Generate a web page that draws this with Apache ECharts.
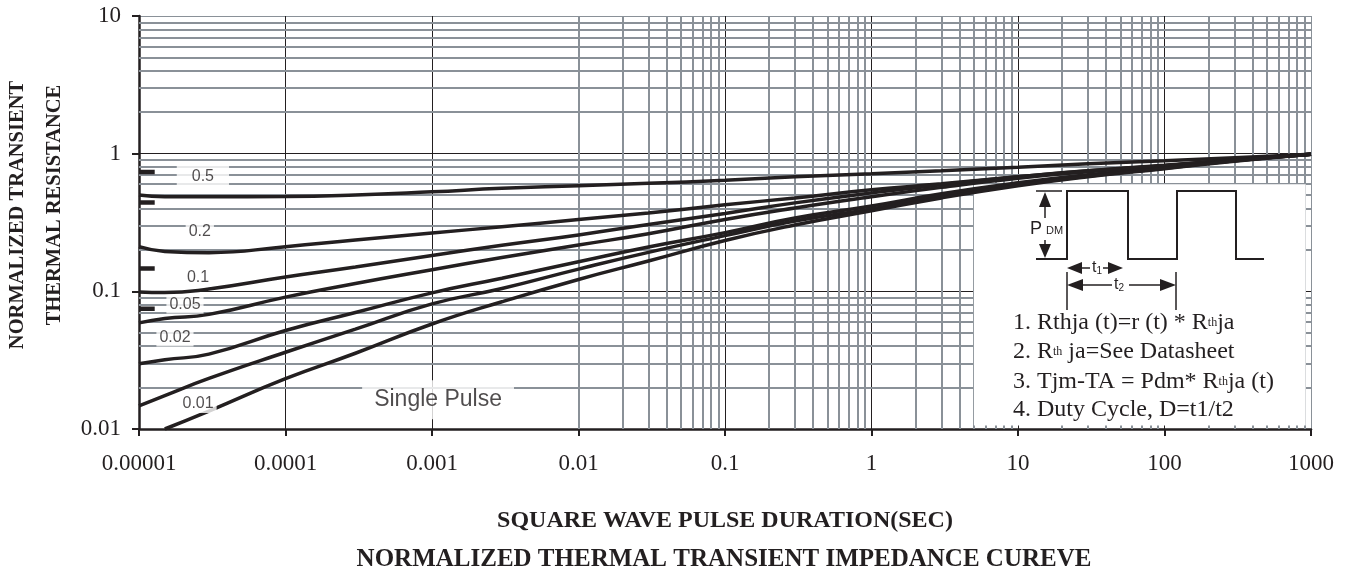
<!DOCTYPE html>
<html>
<head>
<meta charset="utf-8">
<script src="https://cdn.jsdelivr.net/npm/echarts@6/dist/echarts.min.js"></script>
<style>
html, body { margin: 0; padding: 0; background: #fff; }
#main { width: 1350px; height: 571px; }
</style>
</head>
<body>
<div id="main"></div>
<script>
// pulse duration (sec) where the curves were read
let timeX = [1e-5, 1.5e-5, 3e-5, 1e-4, 3e-4, 1e-3, 3e-3, 1e-2, 3e-2, 0.1, 0.3, 1, 3, 10, 30, 100, 300, 1000]

// normalized transient thermal resistance, one array per duty cycle
let duty05 = [0.50, 0.486, 0.487, 0.488, 0.50, 0.528, 0.56, 0.584, 0.609, 0.641, 0.679, 0.715, 0.751, 0.797, 0.845, 0.889, 0.935, 0.99]
let duty02 = [0.211, 0.195, 0.191, 0.211, 0.236, 0.265, 0.295, 0.332, 0.371, 0.425, 0.477, 0.546, 0.604, 0.679, 0.751, 0.818, 0.904, 0.99]
let duty01 = [0.099, 0.098, 0.104, 0.127, 0.150, 0.182, 0.216, 0.257, 0.306, 0.368, 0.439, 0.519, 0.594, 0.679, 0.751, 0.824, 0.904, 0.99]
let duty005 = [0.059, 0.0635, 0.068, 0.0908, 0.114, 0.1435, 0.176, 0.217, 0.262, 0.333, 0.403, 0.486, 0.569, 0.663, 0.739, 0.818, 0.897, 0.99]
let duty002 = [0.0298, 0.0319, 0.035, 0.0519, 0.0702, 0.0975, 0.1245, 0.164, 0.210, 0.267, 0.341, 0.417, 0.511, 0.614, 0.703, 0.790, 0.889, 0.99]
let duty001 = [0.0147, 0.0175, 0.0233, 0.0361, 0.0531, 0.081, 0.1048, 0.145, 0.192, 0.254, 0.324, 0.397, 0.494, 0.594, 0.685, 0.784, 0.889, 0.99]
let singlePulse = [null, 0.0100, 0.0135, 0.0232, 0.0355, 0.0579, 0.084, 0.122, 0.166, 0.234, 0.303, 0.384, 0.477, 0.584, 0.679, 0.777, 0.882, 0.99]

// short stubs at the left edge
let stubY = [0.735, 0.441, 0.1465, 0.0748]
let stubEnd = 1.28e-5

// curve labels (text, x, y)
let labelText = ['0.5', '0.2', '0.1', '0.05', '0.02', '0.01', 'Single Pulse']
let labelX = [2.73e-5, 2.6e-5, 2.53e-5, 2.06e-5, 1.76e-5, 2.53e-5, 1.1e-3]
let labelY = [0.68, 0.272, 0.1265, 0.0804, 0.0462, 0.0152, 0.0163]

// tick labels
let xTickLabels = ['0.00001', '0.0001', '0.001', '0.01', '0.1', '1', '10', '100', '1000']
let yTickLabels = ['0.01', '0.1', '1', '10']

let ink = '#231f20'
let gray = '#8a9198'
let serif = '"Times New Roman", "Liberation Serif", serif'
let sans = 'Arial, "Liberation Sans", sans-serif'

let myChart = echarts.init(document.getElementById('main'))

function pairs(vals) {
	let out = []
	for (let i = 0; i < timeX.length; i++) {
		if (vals[i] != null) out.push([timeX[i], vals[i]])
	}
	return out
}

// minor grid lines 2..9 in each decade
let minorLines = []
for (let e = -5; e < 3; e++) {
	for (let k = 2; k < 10; k++) minorLines.push({ xAxis: k * Math.pow(10, e) })
}
for (let e = -2; e < 1; e++) {
	for (let k = 2; k < 10; k++) minorLines.push({ yAxis: k * Math.pow(10, e) })
}

let series = []

series.push({
	type: 'line',
	data: [],
	z: 1,
	silent: true,
	markLine: {
		silent: true,
		symbol: 'none',
		z: 1,
		label: { show: false },
		lineStyle: { color: gray, width: 2, type: 'solid', opacity: 1 },
		emphasis: { disabled: true },
		data: minorLines
	}
})

// white boxes over the grid
series.push({
	type: 'line',
	data: [],
	z: 2,
	silent: true,
	markArea: {
		silent: true,
		z: 2,
		itemStyle: { color: '#fff', opacity: 1 },
		emphasis: { disabled: true },
		data: [[{ xAxis: 5, yAxis: 0.0106 }, { xAxis: 920, yAxis: 0.6 }]]
	}
})

let curves = [duty05, duty02, duty01, duty005, duty002, duty001, singlePulse]
for (let i = 0; i < curves.length; i++) {
	series.push({
		name: labelText[i],
		type: 'line',
		z: 3,
		smooth: true,
		showSymbol: false,
		silent: true,
		lineStyle: { color: ink, width: 3.5 },
		data: pairs(curves[i])
	})
}

for (let i = 0; i < stubY.length; i++) {
	series.push({
		type: 'line',
		z: 3,
		showSymbol: false,
		silent: true,
		lineStyle: { color: ink, width: 4.5 },
		data: [[1e-5, stubY[i]], [stubEnd, stubY[i]]]
	})
}

let labelData = []
for (let i = 0; i < labelText.length; i++) {
	let item = { name: labelText[i], value: [labelX[i], labelY[i]] }
	if (i === 0) item.label = { padding: [6, 15] }
	if (i === labelText.length - 1) item.label = { fontSize: 23, padding: [8, 12] }
	labelData.push(item)
}
series.push({
	type: 'scatter',
	z: 5,
	symbolSize: 0,
	silent: true,
	label: {
		show: true,
		position: 'inside',
		formatter: '{b}',
		fontFamily: sans,
		fontSize: 16,
		color: ink,
		backgroundColor: '#fff',
		padding: [1, 3]
	},
	data: labelData
})

let insetText = [
	'1. Rthja (t)=r (t) * R{s|th}ja',
	'2. R{s|th} ja=See Datasheet',
	'3. Tjm-TA = Pdm* R{s|th}ja (t)',
	'4. Duty Cycle, D=t1/t2'
]
let insetY = [323, 352, 381.5, 410]

let graphics = [
	{ type: 'polyline', z: 10, shape: { points: [[1036, 259], [1067, 259], [1067, 191], [1128, 191], [1128, 259], [1177, 259], [1177, 191], [1236, 191], [1236, 259], [1264, 259]] }, style: { stroke: ink, lineWidth: 2, fill: null } },
	{ type: 'line', z: 10, shape: { x1: 1036, y1: 191, x2: 1062, y2: 191 }, style: { stroke: ink, lineWidth: 1.5 } },
	{ type: 'line', z: 10, shape: { x1: 1045, y1: 205, x2: 1045, y2: 218 }, style: { stroke: ink, lineWidth: 1.5 } },
	{ type: 'line', z: 10, shape: { x1: 1045, y1: 240, x2: 1045, y2: 248 }, style: { stroke: ink, lineWidth: 1.5 } },
	{ type: 'polygon', z: 10, shape: { points: [[1045, 192], [1039, 207], [1051, 207]] }, style: { fill: ink } },
	{ type: 'polygon', z: 10, shape: { points: [[1045, 258], [1039, 244], [1051, 244]] }, style: { fill: ink } },
	{ type: 'text', z: 10, x: 1030, y: 229, style: { text: 'P', font: '18px ' + sans, fill: ink, verticalAlign: 'middle' } },
	{ type: 'text', z: 10, x: 1046, y: 231, style: { text: 'DM', font: '11px ' + sans, fill: ink, verticalAlign: 'middle' } },
	// t1
	{ type: 'polygon', z: 10, shape: { points: [[1067, 268], [1082, 262], [1082, 274]] }, style: { fill: ink } },
	{ type: 'line', z: 10, shape: { x1: 1082, y1: 268, x2: 1090, y2: 268 }, style: { stroke: ink, lineWidth: 1.5 } },
	{ type: 'text', z: 10, x: 1092, y: 268, style: { text: 't{s|1}', font: '16px ' + sans, fill: ink, verticalAlign: 'middle', rich: { s: { fontSize: 10, fontFamily: sans, fill: ink, verticalAlign: 'bottom' } } } },
	{ type: 'line', z: 10, shape: { x1: 1103, y1: 268, x2: 1110, y2: 268 }, style: { stroke: ink, lineWidth: 1.5 } },
	{ type: 'polygon', z: 10, shape: { points: [[1123, 268], [1108, 262], [1108, 274]] }, style: { fill: ink } },
	// t2
	{ type: 'polygon', z: 10, shape: { points: [[1067, 285], [1083, 279], [1083, 291]] }, style: { fill: ink } },
	{ type: 'line', z: 10, shape: { x1: 1083, y1: 285, x2: 1112, y2: 285 }, style: { stroke: ink, lineWidth: 1.5 } },
	{ type: 'text', z: 10, x: 1114, y: 285, style: { text: 't{s|2}', font: '16px ' + sans, fill: ink, verticalAlign: 'middle', rich: { s: { fontSize: 10, fontFamily: sans, fill: ink, verticalAlign: 'bottom' } } } },
	{ type: 'line', z: 10, shape: { x1: 1129, y1: 285, x2: 1161, y2: 285 }, style: { stroke: ink, lineWidth: 1.5 } },
	{ type: 'polygon', z: 10, shape: { points: [[1176, 285], [1160, 279], [1160, 291]] }, style: { fill: ink } },
	{ type: 'line', z: 10, shape: { x1: 1067, y1: 272, x2: 1067, y2: 310 }, style: { stroke: ink, lineWidth: 1.5 } },
	{ type: 'line', z: 10, shape: { x1: 1176, y1: 272, x2: 1176, y2: 310 }, style: { stroke: ink, lineWidth: 1.5 } },
	// y axis title, two rotated lines
	{ type: 'text', z: 10, x: 18, y: 215, rotation: Math.PI / 2, style: { text: 'NORMALIZED TRANSIENT', font: 'bold 20.5px ' + serif, fill: ink, align: 'center', verticalAlign: 'middle' } },
	{ type: 'text', z: 10, x: 55, y: 205, rotation: Math.PI / 2, style: { text: 'THERMAL RESISTANCE', font: 'bold 20.5px ' + serif, fill: ink, align: 'center', verticalAlign: 'middle' } },
	// chart caption under the axis title
	{ type: 'text', z: 10, x: 724, y: 560, style: { text: 'NORMALIZED THERMAL TRANSIENT IMPEDANCE CUREVE', font: 'bold 25px ' + serif, fill: ink, align: 'center', verticalAlign: 'middle' } }
]
for (let i = 0; i < insetText.length; i++) {
	graphics.push({
		type: 'text', z: 10, x: 1013, y: insetY[i],
		style: {
			text: insetText[i], font: '24px ' + serif, fill: ink, verticalAlign: 'middle',
			rich: { s: { fontSize: 12, fontFamily: serif, fill: ink } }
		}
	})
}

let chartOption = {
	animation: false,
	backgroundColor: '#fff',
	grid: { left: 139, right: 39, top: 16, bottom: 142, outerBoundsMode: 'none', containLabel: false },
	xAxis: {
		type: 'log',
		logBase: 10,
		min: 1e-5,
		max: 1000,
		splitNumber: 8,
		name: 'SQUARE WAVE PULSE DURATION(SEC)',
		nameLocation: 'middle',
		nameGap: 80,
		nameTextStyle: { fontFamily: serif, fontWeight: 'bold', fontSize: 24, color: ink },
		axisLine: { lineStyle: { color: ink, width: 2.5 } },
		axisTick: { length: 7, lineStyle: { color: ink, width: 2 } },
		axisLabel: {
			margin: 23,
			fontFamily: serif, fontSize: 23, color: ink,
			formatter: function(v) { return xTickLabels[Math.round(Math.log10(v)) + 5] }
		},
		splitLine: { show: true, lineStyle: { color: [ink, ink, ink, ink, ink, ink, ink, ink, gray], width: 1 } }
	},
	yAxis: {
		type: 'log',
		logBase: 10,
		min: 0.01,
		max: 10,
		splitNumber: 3,
		axisLine: { lineStyle: { color: ink, width: 2.5 } },
		axisTick: { length: 7, lineStyle: { color: ink, width: 2 } },
		axisLabel: {
			margin: 18,
			fontFamily: serif, fontSize: 23, color: ink,
			formatter: function(v) { return yTickLabels[Math.round(Math.log10(v)) + 2] }
		},
		splitLine: { show: true, lineStyle: { color: [ink, ink, ink, gray], width: 1 } }
	},
	graphic: graphics,
	series: series
}

chartOption && myChart.setOption(chartOption)
</script>
</body>
</html>
